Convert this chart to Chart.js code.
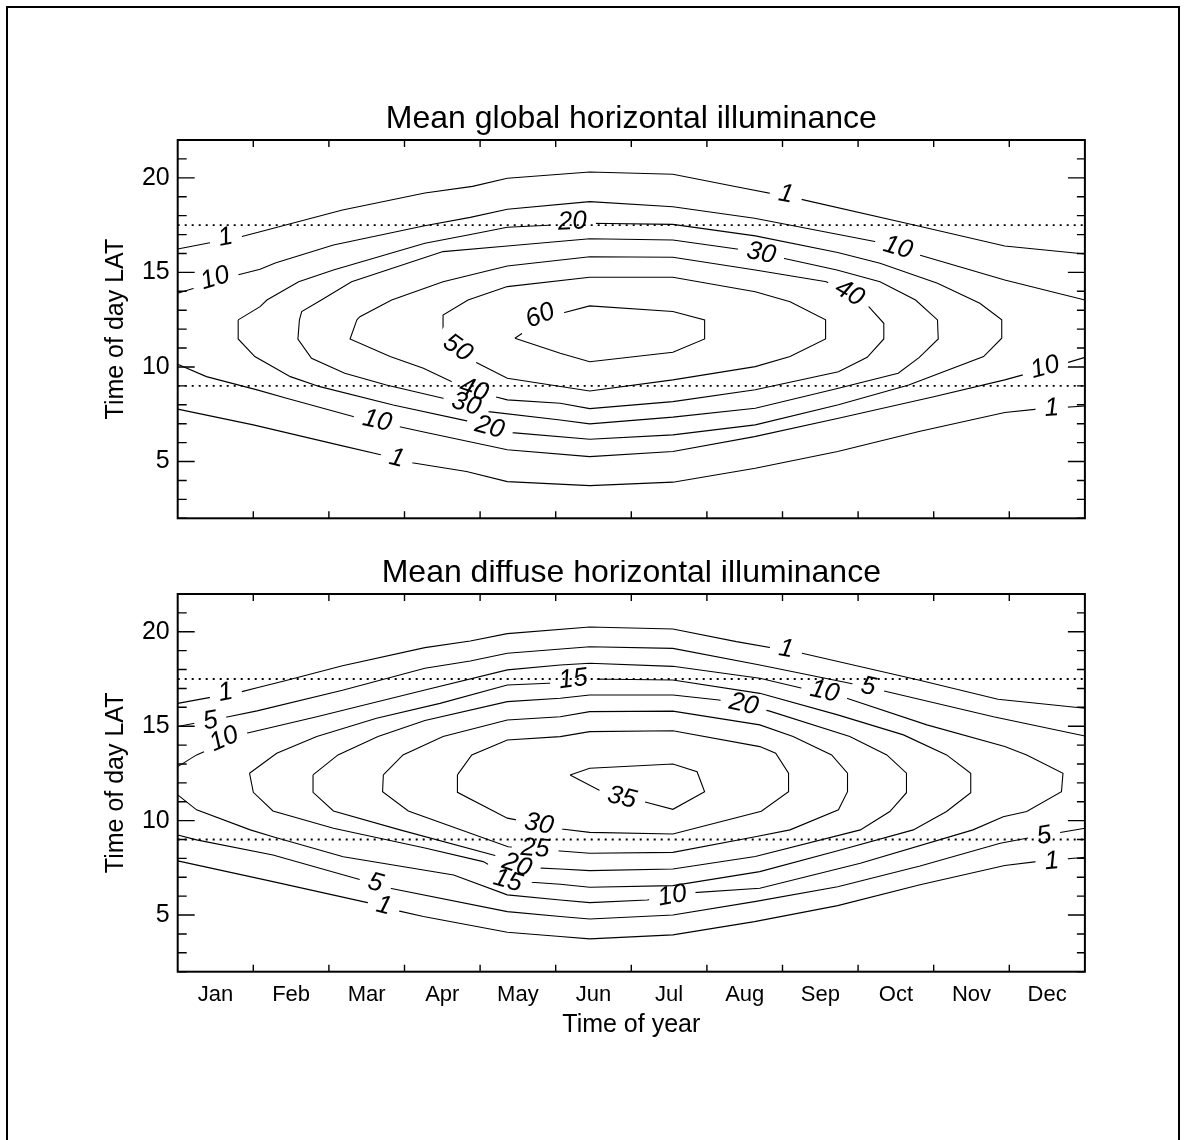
<!DOCTYPE html>
<html>
<head>
<meta charset="utf-8">
<title>Mean horizontal illuminance</title>
<script src="https://cdn.jsdelivr.net/npm/chart.js@4.4.1/dist/chart.umd.min.js"></script>
<style>
  html, body { margin: 0; padding: 0; background: #fff; overflow: hidden; }
  #page { position: relative; width: 1186px; height: 1140px; overflow: hidden; background: #fff; }
  #frame { position: absolute; left: 6px; top: 6px; width: 1174px; height: 1200px; box-sizing: border-box; border: 2px solid #000; }
  canvas { position: absolute; left: 0; }
</style>
</head>
<body>
<div id="page">
  <div id="frame"></div>
  <canvas id="globalPanel" width="1186" height="560" style="top:0px"></canvas>
  <canvas id="diffusePanel" width="1186" height="580" style="top:560px"></canvas>
</div>
<script>
// ---- axes ----
const months = ['Jan', 'Feb', 'Mar', 'Apr', 'May', 'Jun', 'Jul', 'Aug', 'Sep', 'Oct', 'Nov', 'Dec'];
const hourTicks = [5, 10, 15, 20];
const referenceHours = [9, 17.5];

// ---- mean global horizontal illuminance: contour lines as [month, hour LAT] ----
const glob1Upper = [[0,16.24],[0.85,16.9],[1.09,17.15],[2.18,18.3],[3.27,19.2],[3.9,19.55],[4.36,19.98],[5.45,20.31],[6.55,20.19],[7.39,19.53],[8.25,18.86],[9.74,17.51],[10.94,16.4],[12,15.97]];
const glob1Lower = [[0,7.77],[1.0,6.94],[2.18,5.83],[2.7,5.35],[3.1,4.94],[3.82,4.47],[4.36,3.94],[5.45,3.73],[6.55,3.91],[7.64,4.65],[8.73,5.53],[9.82,6.6],[10.94,7.59],[11.37,7.77],[12,7.94]];
const glob10Upper = [[0,13.9],[0.79,14.86],[1.09,15.17],[1.29,15.5],[2.06,16.45],[3.25,17.45],[3.87,17.91],[4.36,18.34],[5.45,18.74],[6.55,18.47],[7.63,17.86],[9.22,16.63],[9.81,15.92],[10.94,14.6],[12,13.54]];
const glob10Lower = [[0,10.14],[0.38,9.49],[1.05,8.79],[1.44,8.35],[2.32,7.38],[2.92,6.85],[3.27,6.55],[4.36,5.62],[5.45,5.26],[6.55,5.53],[7.63,6.32],[8.74,7.29],[10.0,8.43],[10.94,9.32],[11.77,10.23],[12,10.51]];
const glob20 = [[0.8,12.49],[1.09,13.19],[1.18,13.54],[1.6,14.51],[2.06,15.13],[3.27,16.54],[3.84,16.98],[4.36,17.39],[5.45,17.6],[6.55,17.54],[7.64,16.93],[8.73,16.05],[9.29,15.48],[10.05,14.43],[10.61,13.37],[10.9,12.49],[10.9,11.52],[10.66,10.55],[9.67,9.05],[8.74,8.0],[7.64,6.94],[6.55,6.41],[5.45,6.18],[4.42,6.53],[3.87,7.11],[2.85,7.99],[1.88,8.96],[1.49,9.49],[1.02,10.55],[0.8,11.48],[0.8,12.49]];
const glob30 = [[1.61,12.49],[1.64,12.93],[1.9,13.54],[2.3,14.51],[3.51,16.1],[4.36,16.4],[5.45,16.78],[6.55,16.71],[7.42,16.22],[8.01,15.75],[8.72,15.13],[9.29,14.51],[9.76,13.54],[10.05,12.49],[10.06,11.48],[9.81,10.51],[9.53,9.67],[8.74,8.88],[7.64,7.82],[6.55,7.35],[5.45,6.99],[5.06,7.2],[4.11,7.64],[3.51,8.35],[2.76,9.05],[2.21,9.67],[1.77,10.46],[1.59,11.48],[1.61,12.49]];
const glob40 = [[2.37,12.49],[2.41,12.66],[2.83,13.54],[3.51,14.51],[4.36,15.34],[5.45,15.83],[6.55,15.8],[7.64,15.13],[8.58,14.51],[9.12,13.28],[9.34,12.31],[9.34,11.48],[9.12,10.51],[8.74,9.75],[7.64,8.8],[6.55,8.17],[5.45,7.8],[5.06,8.08],[4.36,8.26],[4.2,8.43],[3.62,9.23],[3.25,9.93],[2.81,10.55],[2.28,11.48],[2.37,12.49]];
const glob50 = [[3.51,12.49],[3.51,12.75],[3.84,13.54],[4.36,14.25],[5.45,14.74],[6.55,14.74],[7.64,13.98],[8.1,13.45],[8.57,12.49],[8.57,11.48],[8.1,10.55],[7.64,10.02],[6.55,9.32],[5.45,8.73],[4.36,9.4],[3.93,10.28],[3.51,11.48],[3.51,12.49]];
const glob60 = [[4.46,11.52],[4.75,12.3],[5.08,12.84],[5.45,13.23],[6.55,12.93],[6.97,12.49],[6.97,11.48],[6.55,10.78],[5.45,10.28],[5.06,10.73],[4.46,11.52]];

// label spots: [level, month, hour]
const globalLabelSpots = [
  [1, 0.63, 16.89], [10, 0.49, 14.74], [20, 5.22, 17.73], [1, 8.05, 19.18],
  [30, 7.72, 16.06], [10, 9.53, 16.36], [40, 8.89, 13.95], [60, 4.79, 12.75],
  [50, 3.71, 11.04], [40, 3.92, 8.84], [30, 3.82, 8.08], [20, 4.13, 6.85],
  [10, 2.64, 7.2], [1, 2.9, 5.23], [10, 11.47, 10.02], [1, 11.56, 7.87]
];

// ---- mean diffuse horizontal illuminance ----
const diff1Upper = [[0,16.21],[0.85,16.83],[1.05,17.04],[1.42,17.41],[2.18,18.2],[3.27,19.16],[3.87,19.51],[4.36,19.9],[5.45,20.25],[6.55,20.15],[7.39,19.48],[8.23,18.89],[9.8,17.45],[10.85,16.43],[12,15.95]];
const diff1Lower = [[0,7.87],[1.26,6.77],[2.54,5.63],[2.92,5.22],[3.25,4.92],[4.36,4.09],[5.06,3.86],[5.45,3.74],[6.55,3.95],[7.63,4.65],[8.73,5.5],[9.82,6.6],[10.94,7.62],[11.36,7.83],[12,8.06]];
const diff5Upper = [[0,14.98],[0.67,15.5],[1.05,15.81],[2.18,16.9],[3.27,18.07],[3.87,18.45],[4.36,18.86],[5.45,19.21],[6.55,19.12],[7.7,18.24],[8.89,17.27],[9.33,16.88],[10.79,15.5],[12,14.48]];
const diff5Lower = [[0,9.24],[0.25,8.98],[1.26,8.18],[2.43,6.86],[2.81,6.42],[4.36,5.18],[5.06,4.92],[5.45,4.79],[6.55,5.0],[7.63,5.71],[8.73,6.5],[9.82,7.6],[10.88,8.8],[11.23,9.07],[12,9.6]];
const diff10 = [[0,12.86],[0.25,13.48],[0.91,14.63],[1.84,15.5],[3.27,16.92],[4.36,17.98],[5.06,18.24],[5.45,18.33],[6.55,18.17],[7.7,17.54],[8.26,17.01],[8.85,16.48],[9.91,15.07],[10.94,13.92],[11.23,13.48],[11.71,12.51],[11.69,11.53],[11.23,10.48],[10.92,10.21],[10.52,9.51],[9.03,7.74],[7.7,6.42],[6.73,6.16],[6.21,5.8],[5.45,5.66],[5.06,5.8],[4.36,6.07],[3.65,7.12],[2.19,8.09],[1.26,9.15],[0.96,9.51],[0.25,10.57],[0,11.36]];
const diff15 = [[0.95,12.51],[1.31,13.57],[1.84,14.45],[2.63,15.42],[3.47,16.21],[4.36,17.18],[5.06,17.3],[5.45,17.5],[6.55,17.45],[7.7,16.74],[8.73,15.6],[9.6,14.54],[10.17,13.48],[10.49,12.51],[10.49,11.48],[10.17,10.48],[9.73,9.51],[8.73,8.4],[7.7,7.3],[6.55,6.56],[5.45,6.47],[5.06,6.63],[4.68,6.74],[4.37,7.1],[4.04,7.83],[3.27,8.55],[2.06,9.6],[1.26,10.51],[1.0,11.5],[0.95,12.51]];
const diff20 = [[1.79,12.42],[2.12,13.48],[2.65,14.45],[3.27,15.3],[4.36,16.3],[5.06,16.48],[5.45,16.65],[6.55,16.65],[7.16,16.39],[7.82,15.81],[8.89,14.45],[9.38,13.48],[9.64,12.51],[9.64,11.48],[9.42,10.48],[9.03,9.51],[7.64,8.1],[6.55,7.44],[5.45,7.35],[5.06,7.44],[4.68,7.51],[4.26,8.09],[2.94,9.51],[2.06,10.51],[1.79,11.5],[1.79,12.42]];
const diff25 = [[2.72,12.42],[2.98,13.48],[3.51,14.45],[4.36,15.33],[5.06,15.5],[5.45,15.77],[6.55,15.8],[7.7,15.07],[8.14,14.45],[8.65,13.48],[8.86,12.51],[8.86,11.53],[8.74,10.57],[8.1,9.51],[7.64,9.15],[6.55,8.32],[5.45,8.27],[5.06,8.39],[4.37,8.62],[3.05,10.51],[2.71,11.53],[2.72,12.42]];
const diff30 = [[3.7,12.42],[3.89,13.48],[4.36,14.27],[5.06,14.45],[5.45,14.71],[6.55,14.76],[7.7,13.92],[7.91,13.57],[8.08,12.51],[8.08,11.53],[7.72,10.5],[6.55,9.29],[5.45,9.38],[5.08,9.56],[4.48,10.04],[4.36,10.13],[3.7,11.5],[3.7,12.42]];
const diff35 = [[5.19,12.42],[5.45,12.77],[6.55,13.0],[6.87,12.59],[6.97,11.53],[6.55,10.6],[6.17,11.0],[5.88,11.27],[5.57,11.62],[5.19,12.42]];

const diffuseLabelSpots = [
  [1, 0.63, 16.83], [5, 0.43, 15.33], [10, 0.61, 14.36], [15, 5.23, 17.54],
  [1, 8.05, 19.13], [10, 8.56, 16.88], [5, 9.14, 17.14], [20, 7.49, 16.21],
  [35, 5.88, 11.27], [30, 4.78, 9.86], [25, 4.73, 8.57], [20, 4.49, 7.69],
  [15, 4.37, 6.86], [5, 2.62, 6.74], [1, 2.73, 5.54], [10, 6.54, 6.07],
  [5, 11.46, 9.24], [1, 11.56, 7.9]
];

// ---- contour tables handed to the charts ----
const globalContours = [
  { level: 1, points: glob1Upper }, { level: 1, points: glob1Lower },
  { level: 10, points: glob10Upper }, { level: 10, points: glob10Lower },
  { level: 20, points: glob20 }, { level: 30, points: glob30 },
  { level: 40, points: glob40 }, { level: 50, points: glob50 },
  { level: 60, points: glob60 }
];
const diffuseContours = [
  { level: 1, points: diff1Upper }, { level: 1, points: diff1Lower },
  { level: 5, points: diff5Upper }, { level: 5, points: diff5Lower },
  { level: 10, points: diff10 }, { level: 15, points: diff15 },
  { level: 20, points: diff20 }, { level: 25, points: diff25 },
  { level: 30, points: diff30 }, { level: 35, points: diff35 }
];

// ---- drawing ----
const FONT = "'Liberation Sans', Arial, Helvetica, sans-serif";
Chart.defaults.font.family = FONT;
Chart.defaults.color = '#000';
Chart.defaults.animation = false;

const LABEL_FONT = 'italic 26px ' + FONT;

function toXY(pairs) { return pairs.map(p => ({ x: p[0], y: p[1] })); }

// Decorations for one panel: label gaps, contour labels, frame, ticks, title.
function panelDecor(panel) {
  let geo = [];
  const clipped = new Set();

  function computeGeo(chart) {
    const xs = chart.scales.x, ys = chart.scales.y, ctx = chart.ctx;
    ctx.save();
    ctx.font = LABEL_FONT;
    const out = panel.spots.map(spot => {
      const [level, mx, hy] = spot;
      const px = xs.getPixelForValue(mx), py = ys.getPixelForValue(hy);
      let bestD = Infinity, seg = null, ci = -1;
      panel.contours.forEach((c, idx) => {
        if (c.level !== level) return;
        for (let i = 0; i < c.points.length - 1; i++) {
          const ax = xs.getPixelForValue(c.points[i][0]), ay = ys.getPixelForValue(c.points[i][1]);
          const bx = xs.getPixelForValue(c.points[i + 1][0]), by = ys.getPixelForValue(c.points[i + 1][1]);
          const dx = bx - ax, dy = by - ay, L = dx * dx + dy * dy;
          let t = L ? ((px - ax) * dx + (py - ay) * dy) / L : 0;
          t = Math.max(0, Math.min(1, t));
          const d = Math.hypot(px - (ax + t * dx), py - (ay + t * dy));
          if (d < bestD) { bestD = d; seg = [dx, dy]; ci = idx; }
        }
      });
      let ang = seg ? Math.atan2(seg[1], seg[0]) : 0;
      if (ang > Math.PI / 2) ang -= Math.PI;
      if (ang < -Math.PI / 2) ang += Math.PI;
      const text = String(level);
      return { px, py, ang, ci, text, w: ctx.measureText(text).width };
    });
    ctx.restore();
    return out;
  }

  return {
    id: 'panelDecor',
    beforeDatasetsDraw(chart) { geo = computeGeo(chart); clipped.clear(); },
    beforeDatasetDraw(chart, args) {
      const mine = geo.filter(g => g.ci === args.index);
      if (!mine.length) return;
      const ctx = chart.ctx;
      ctx.save();
      ctx.beginPath();
      ctx.rect(0, 0, chart.width, chart.height);
      mine.forEach(g => {
        const hw = g.w / 2 + 9, hh = 12;
        const c = Math.cos(g.ang), s = Math.sin(g.ang);
        const pts = [[-hw, -hh], [hw, -hh], [hw, hh], [-hw, hh]]
          .map(([u, v]) => [g.px + u * c - v * s, g.py + u * s + v * c]);
        ctx.moveTo(pts[0][0], pts[0][1]);
        for (let k = 1; k < 4; k++) ctx.lineTo(pts[k][0], pts[k][1]);
        ctx.closePath();
      });
      ctx.clip('evenodd');
      clipped.add(args.index);
    },
    afterDatasetDraw(chart, args) {
      if (clipped.has(args.index)) { chart.ctx.restore(); clipped.delete(args.index); }
    },
    afterDatasetsDraw(chart) {
      const ctx = chart.ctx;
      geo.forEach(g => {
        ctx.save();
        ctx.translate(g.px, g.py);
        ctx.rotate(g.ang);
        ctx.font = LABEL_FONT;
        ctx.fillStyle = '#000';
        ctx.textAlign = 'center';
        ctx.textBaseline = 'middle';
        ctx.fillText(g.text, 0, 1);
        ctx.restore();
      });
    },
    afterDraw(chart) {
      const { ctx, chartArea: a, scales: { x, y } } = chart;
      ctx.save();
      ctx.strokeStyle = '#000';
      ctx.lineWidth = 1.4;
      ctx.beginPath();
      for (let h = Math.ceil(y.min); h <= Math.floor(y.max); h++) {
        const p = y.getPixelForValue(h);
        const major = hourTicks.includes(h);
        ctx.moveTo(a.left, p); ctx.lineTo(a.left + (major ? 17 : 9), p);
        ctx.moveTo(a.right, p); ctx.lineTo(a.right - (major ? 17 : 8), p);
      }
      for (let m = 1; m < months.length; m++) {
        const p = x.getPixelForValue(m);
        ctx.moveTo(p, a.bottom); ctx.lineTo(p, a.bottom - 7);
        ctx.moveTo(p, a.top); ctx.lineTo(p, a.top + 7);
      }
      ctx.stroke();
      ctx.lineWidth = 2;
      ctx.strokeRect(a.left, a.top, a.right - a.left, a.bottom - a.top);
      ctx.font = '32px ' + FONT;
      ctx.fillStyle = '#000';
      ctx.textAlign = 'center';
      ctx.textBaseline = 'alphabetic';
      ctx.fillText(panel.title, (a.left + a.right) / 2, a.top - 12);
      ctx.restore();
    }
  };
}

function buildPanel(canvasId, panel) {
  const datasets = panel.contours.map(c => ({
    data: toXY(c.points),
    showLine: true,
    borderColor: '#000',
    borderWidth: 1.1,
    pointRadius: 0,
    pointHoverRadius: 0,
    fill: false,
    tension: 0
  }));
  referenceHours.forEach(h => datasets.push({
    data: [{ x: 0, y: h }, { x: months.length, y: h }],
    showLine: true,
    borderColor: '#000',
    borderWidth: 1.8,
    borderDash: [2, 5],
    pointRadius: 0,
    pointHoverRadius: 0,
    fill: false
  }));

  return new Chart(document.getElementById(canvasId), {
    type: 'scatter',
    data: { datasets },
    options: {
      responsive: false,
      devicePixelRatio: 1,
      events: [],
      layout: { autoPadding: false, padding: panel.padding },
      plugins: { legend: { display: false }, tooltip: { enabled: false }, title: { display: false } },
      scales: {
        x: {
          type: 'linear', min: 0, max: months.length,
          grid: { display: false, drawTicks: false },
          border: { display: false },
          afterBuildTicks: s => { s.ticks = months.map((m, i) => ({ value: i + 0.5 })); },
          afterFit: s => { s.height = panel.xAxisHeight; },
          ticks: {
            display: panel.showMonths, autoSkip: false, maxRotation: 0, minRotation: 0,
            padding: 10, font: { size: 22 },
            callback: v => months[Math.floor(v)]
          },
          title: {
            display: panel.showMonths, text: 'Time of year',
            font: { size: 25 }, padding: { top: 0, bottom: 31.7 }
          }
        },
        y: {
          type: 'linear', min: 2, max: 22,
          grid: { display: false, drawTicks: false },
          border: { display: false },
          afterBuildTicks: s => { s.ticks = hourTicks.map(v => ({ value: v })); },
          afterFit: s => { s.width = 177.7; },
          ticks: { padding: 8, font: { size: 25 } },
          title: {
            display: true, text: 'Time of day LAT',
            font: { size: 25 }, padding: { top: 101.5, bottom: 0 }
          }
        }
      }
    },
    plugins: [panelDecor(panel)]
  });
}

buildPanel('globalPanel', {
  title: 'Mean global horizontal illuminance',
  contours: globalContours,
  spots: globalLabelSpots,
  showMonths: false,
  xAxisHeight: 0,
  padding: { top: 140, bottom: 41.7, left: 0, right: 101.1 }
});

buildPanel('diffusePanel', {
  title: 'Mean diffuse horizontal illuminance',
  contours: diffuseContours,
  spots: diffuseLabelSpots,
  showMonths: true,
  xAxisHeight: 100,
  padding: { top: 34, bottom: 68.3, left: 0, right: 101.1 }
});
</script>
</body>
</html>
